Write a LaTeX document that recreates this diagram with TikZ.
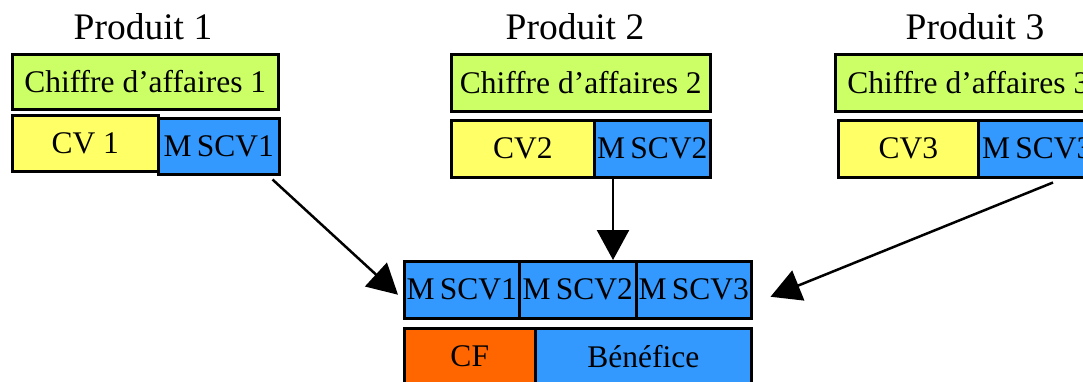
\documentclass[tikz,border=0pt]{standalone}
\usepackage{fontspec}
\setmainfont{Liberation Serif}
\usepackage{tikz}
\usetikzlibrary{positioning,arrows.meta}

\definecolor{vertca}{HTML}{CCFF66}
\definecolor{jaunecv}{HTML}{FFFF66}
\definecolor{bleums}{HTML}{3399FF}
\definecolor{orangecf}{HTML}{FF6600}

\tikzset{
    boite/.style={draw, line width=2.5pt, anchor=north west, inner sep=0pt,
        font=\fontsize{31.5}{31.5}\selectfont},
    titre/.style={font=\fontsize{37.5}{37.5}\selectfont},
    fleche/.style={line width=2.5pt, -{Triangle[length=30pt,width=32pt]}}
}

\begin{document}
\begin{tikzpicture}[x=1pt, y=-1pt]
    \useasboundingbox (0,0) rectangle (1083,381);
    \clip (0,0) rectangle (1083,381);

    % Titres des produits
    \node[titre] (p1) at (143,27) {Produit 1};
    \node[titre] (p2) at (575,27) {Produit 2};
    \node[titre] (p3) at (975,27) {Produit 3};

    % Produit 1
    \node[boite, fill=vertca, minimum width=266pt, minimum height=55pt] (ca1) at (11,53) {Chiffre d'affaires 1};
    \node[boite, fill=jaunecv, minimum width=146pt, minimum height=56pt] (cv1) at (11,114) {CV 1};
    \node[boite, fill=bleums, minimum width=121pt, minimum height=56pt] (ms1) at (157,117) {M\,SCV1};

    % Produit 2
    \node[boite, fill=vertca, minimum width=259pt, minimum height=57pt] (ca2) at (450,53) {Chiffre d'affaires 2};
    \node[boite, fill=jaunecv, minimum width=143pt, minimum height=57pt] (cv2) at (450,119) {CV2};
    \node[boite, fill=bleums, minimum width=116pt, minimum height=57pt] (ms2) at (593,119) {M\,SCV2};

    % Produit 3
    \node[boite, fill=vertca, minimum width=266pt, minimum height=57pt] (ca3) at (834,53) {Chiffre d'affaires 3};
    \node[boite, fill=jaunecv, minimum width=140pt, minimum height=57pt] (cv3) at (837,119) {CV3};
    \node[boite, fill=bleums, minimum width=118pt, minimum height=57pt] (ms3) at (977,119) {M\,SCV3};

    % Marges totales
    \node[boite, fill=bleums, minimum width=115pt, minimum height=57pt] (m1) at (403,260) {M\,SCV1};
    \node[boite, fill=bleums, minimum width=117pt, minimum height=57pt] (m2) at (518,260) {M\,SCV2};
    \node[boite, fill=bleums, minimum width=115pt, minimum height=57pt] (m3) at (635,260) {M\,SCV3};

    % Charges fixes et benefice
    \node[boite, fill=orangecf, minimum width=131pt, minimum height=56pt] (cf) at (403,327) {CF};
    \node[boite, fill=bleums, minimum width=216pt, minimum height=56pt] (bene) at (534,327) {Bénéfice};

    % Fleches
    \draw[fleche] ([xshift=-8pt,yshift=-4pt]ms1.south east) -- ([xshift=-5pt,yshift=-5pt]m1.west);
    \draw[fleche] ([xshift=20pt]ms2.south west) -- ([xshift=20pt]ms2.south west |- m2.north);
    \draw[fleche] ([xshift=76pt,yshift=-4pt]ms3.south west) -- ([xshift=18pt,yshift=-7pt]m3.east);
\end{tikzpicture}
\end{document}
